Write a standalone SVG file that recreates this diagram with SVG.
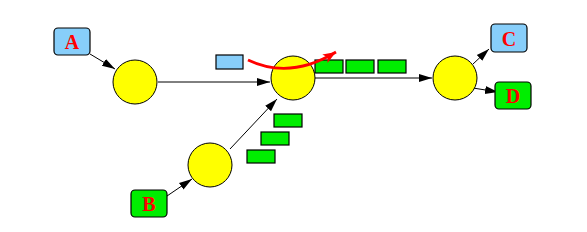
<svg xmlns="http://www.w3.org/2000/svg" width="587" height="232" viewBox="0 0 587 232">
<style>
.c{fill:#ffff00;stroke:#000;stroke-width:1}
.blue{fill:#87cefa;stroke:#000;stroke-width:1.2}
.green{fill:#00ee00;stroke:#000;stroke-width:1.2}
.lbl{font-family:"Liberation Serif",serif;font-weight:bold;font-size:20px;fill:#ff0000;text-anchor:middle}
.e{stroke:#000;stroke-width:1;fill:none;marker-end:url(#ah)}
</style>
<defs>
<marker id="ah" markerWidth="14" markerHeight="10" refX="13" refY="5" orient="auto" markerUnits="userSpaceOnUse">
<path d="M0,1 L13,5 L0,9 Z" fill="#000"/>
</marker>
<marker id="rh" markerWidth="14" markerHeight="10" refX="13" refY="5" orient="auto" markerUnits="userSpaceOnUse">
<path d="M0,0 L13,5 L0,10 L3,5 Z" fill="#ff0000"/>
</marker>
</defs>
<rect width="587" height="232" fill="#fff"/>
<g id="connectors">
<line class="e" x1="90" y1="54" x2="115" y2="69"/>
<line class="e" x1="158" y1="82" x2="270" y2="82"/>
<line class="e" x1="230" y1="149" x2="277" y2="99"/>
<line class="e" x1="167" y1="196" x2="192" y2="179"/>
<line class="e" x1="315" y1="78" x2="432" y2="78"/>
<line class="e" x1="473" y1="64" x2="489" y2="49"/>
<line class="e" x1="473" y1="88" x2="498" y2="92"/>
</g>
<g id="n1"><circle class="c" cx="135" cy="82" r="22"/></g>
<g id="n2"><circle class="c" cx="293" cy="78" r="22"/></g>
<g id="n3"><circle class="c" cx="455" cy="78" r="22"/></g>
<g id="n4"><circle class="c" cx="210" cy="165" r="22"/></g>
<g id="A"><rect class="blue" x="54" y="28" width="36" height="27" rx="4"/><text class="lbl" x="72" y="49">A</text></g>
<g id="B"><rect class="green" x="131" y="190" width="36" height="27" rx="4"/><text class="lbl" x="149" y="211">B</text></g>
<g id="C"><rect class="blue" x="491" y="24" width="36" height="28" rx="4"/><text class="lbl" x="509" y="46">C</text></g>
<g id="D"><rect class="green" x="495" y="82" width="36" height="27" rx="4"/><text class="lbl" x="513" y="103">D</text></g>
<g id="packets">
<rect class="blue" x="216" y="55" width="27" height="14"/>
<rect class="green" x="315" y="60" width="28" height="13"/>
<rect class="green" x="346" y="60" width="28" height="13"/>
<rect class="green" x="378" y="60" width="28" height="13"/>
<rect class="green" x="274" y="114" width="28" height="13"/>
<rect class="green" x="261" y="132" width="28" height="13"/>
<rect class="green" x="247" y="150" width="28" height="13"/>
</g>
<path d="M248,60 Q290,80 336,52" fill="none" stroke="#ff0000" stroke-width="2.8" marker-end="url(#rh)"/>
</svg>
